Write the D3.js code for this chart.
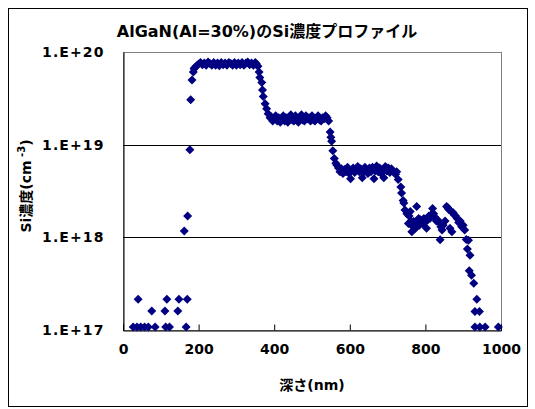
<!DOCTYPE html>
<html><head><meta charset="utf-8">
<script src="https://cdn.jsdelivr.net/npm/d3@7"></script>
<style>
html,body{margin:0;padding:0;background:#fff;}
svg{display:block;}
text{font-family:"DejaVu Sans","Noto Sans CJK JP",sans-serif;font-weight:bold;fill:#000;}
</style></head>
<body>
<script>
// ---- data ----
const titleText = "AlGaN(Al=30%)のSi濃度プロファイル";
const xTitle = "深さ(nm)";
const xTicks = [0, 200, 400, 600, 800, 1000];
const yTicks = [1e17, 1e18, 1e19, 1e20];
const yTickLabels = ["1.E+17", "1.E+18", "1.E+19", "1.E+20"];

const depth = [
  27, 37, 47, 57, 67, 85, 113, 123, 167,
  40, 116, 148, 170,
  76, 111, 145,
  162, 171, 177, 179, 182.5, 186, 188,
  190, 195, 200, 205, 210, 215, 220, 225, 230, 235, 240, 245, 250, 255, 260, 265, 270, 275, 280, 285, 290, 295, 300, 305, 310, 315, 320, 325, 330, 335, 340, 345, 350, 353,
  357, 360, 362, 367, 369, 371, 376, 380, 384, 389,
  392, 396, 400, 404, 408, 412, 416, 420, 424, 428, 432, 436, 440, 444, 448, 452, 456, 460, 464, 468, 472, 476, 480, 484, 488, 492, 496, 500, 504, 508, 512, 516, 520, 524, 528, 532, 536, 540, 544,
  548, 550, 552, 555, 559, 563,
  566, 570, 574, 578, 582, 586, 590, 594, 598, 602, 605, 609, 613, 617, 621, 625, 629, 633, 636, 640, 644, 648, 652, 656, 660, 664, 667, 671, 675, 679, 683, 687, 690, 694, 698, 702, 706, 710, 714, 718, 721,
  724, 728, 735, 737, 741, 743, 746, 751, 755, 757,
  760, 762, 764, 767, 769, 772, 774, 777, 779, 782, 784, 787, 790, 793, 796, 799, 803, 806, 809, 812, 815, 819, 822, 825, 829, 832, 836, 839, 841, 844, 847, 852, 856, 859, 862, 865, 868, 870, 873, 876, 880, 884, 888, 892, 896, 900, 904, 908, 911, 914,
  918, 916, 922, 928, 936, 931, 943,
  931, 944, 958, 993
];
const conc = [
  1.08e17, 1.08e17, 1.08e17, 1.08e17, 1.08e17, 1.08e17, 1.08e17, 1.08e17, 1.08e17,
  2.15e17, 2.15e17, 2.15e17, 2.15e17,
  1.6e17, 1.6e17, 1.6e17,
  1.17e18, 1.7e18, 8.8e18, 3.05e19, 5.0e19, 6.1e19, 6.6e19,
  6.8e19, 7.1e19, 7.4e19, 7.7e19, 7.3e19, 7.6e19, 7.2e19, 7.8e19, 7.5e19, 7.2e19, 7.7e19, 7.2e19, 7.6e19, 7.1e19, 7.7e19, 7.3e19, 7.6e19, 7.2e19, 7.7e19, 7.5e19, 7.2e19, 7.7e19, 7.2e19, 7.6e19, 7.3e19, 7.7e19, 7.2e19, 7.6e19, 7.8e19, 7.3e19, 7.6e19, 7.2e19, 7.7e19, 7.4e19,
  7.0e19, 6.1e19, 5.3e19, 4.7e19, 3.9e19, 3.3e19, 2.77e19, 2.44e19, 2.16e19, 1.95e19,
  2.0e19, 1.8e19, 1.9e19, 2.05e19, 1.8e19, 1.95e19, 1.75e19, 1.9e19, 2.05e19, 1.8e19, 1.95e19, 1.75e19, 1.9e19, 2.1e19, 1.85e19, 1.8e19, 2.05e19, 1.9e19, 1.75e19, 1.95e19, 2.1e19, 1.85e19, 1.8e19, 2.05e19, 1.9e19, 1.95e19, 1.8e19, 2.05e19, 1.85e19, 1.8e19, 1.95e19, 2.05e19, 1.85e19, 1.8e19, 1.95e19, 1.9e19, 2.05e19, 1.95e19, 1.8e19,
  1.37e19, 1.2e19, 1.09e19, 8.6e18, 7.1e18, 6.3e18,
  6.0e18, 5.6e18, 5.1e18, 5.5e18, 4.9e18, 5.4e18, 5.1e18, 5.7e18, 4.9e18, 4.3e18, 5.3e18, 5.6e18, 5.0e18, 5.4e18, 5.8e18, 5.1e18, 5.5e18, 4.4e18, 5.0e18, 5.7e18, 5.2e18, 4.9e18, 5.6e18, 5.1e18, 5.7e18, 4.3e18, 5.2e18, 5.9e18, 5.1e18, 5.6e18, 4.9e18, 5.4e18, 4.4e18, 5.8e18, 5.2e18, 5.6e18, 5.0e18, 5.5e18, 5.2e18, 5.0e18, 4.8e18,
  5.1e18, 4.2e18, 3.5e18, 3.0e18, 2.5e18, 2.35e18, 1.97e18, 1.8e18, 1.41e18, 1.7e18,
  1.9e18, 1.5e18, 1.15e18, 1.3e18, 1.48e18, 1.35e18, 1.25e18, 2.15e18, 1.45e18, 1.6e18, 1.35e18, 1.55e18, 1.5e18, 1.4e18, 1.6e18, 1.45e18, 1.25e18, 1.55e18, 1.7e18, 1.6e18, 1.75e18, 2.05e18, 1.8e18, 1.65e18, 1.5e18, 1.55e18, 1.45e18, 9.4e17, 1.3e18, 1.2e18, 1.35e18, 1.5e18, 2.15e18, 2.1e18, 2.0e18, 1.25e18, 1.9e18, 1.15e18, 1.85e18, 1.75e18, 1.7e18, 1.6e18, 1.45e18, 1.5e18, 1.3e18, 1.35e18, 1.2e18, 9.5e17, 7.5e17, 9.3e17,
  6.4e17, 4.35e17, 3.9e17, 3.2e17, 2.15e17, 1.58e17, 1.58e17,
  1.08e17, 1.08e17, 1.08e17, 1.08e17
];

// ---- layout ----
const W = 535, H = 409;
const plot = {left: 123, right: 501, top: 52, bottom: 330};

const svg = d3.select("body").append("svg").attr("width", W).attr("height", H);

// outer border
svg.append("rect").attr("x", 8.5).attr("y", 8.5).attr("width", 519).attr("height", 398)
  .attr("fill", "#fff").attr("stroke", "#000").attr("stroke-width", 1);

const x = d3.scaleLinear().domain([0, 1000]).range([plot.left, plot.right]);
const y = d3.scaleLog().domain([1e17, 1e20]).range([plot.bottom, plot.top]);

// plot area border (gray top/right)
svg.append("rect").attr("x", plot.left + 0.5).attr("y", plot.top + 0.5)
  .attr("width", plot.right - plot.left).attr("height", plot.bottom - plot.top)
  .attr("fill", "none").attr("stroke", "#808080").attr("stroke-width", 1);

// gridlines
svg.append("g").selectAll("line").data(yTicks.filter(v => v > 1e17 && v < 1e20)).join("line")
  .attr("x1", plot.left).attr("x2", plot.right)
  .attr("y1", d => Math.round(y(d)) + 0.5).attr("y2", d => Math.round(y(d)) + 0.5)
  .attr("stroke", "#000").attr("stroke-width", 1);

// x axis
const xAxis = d3.axisBottom(x).tickValues(xTicks).tickSize(-6).tickPadding(14).tickFormat(d3.format("d"));
const gx = svg.append("g").attr("transform", `translate(0,${plot.bottom + 0.5})`).call(xAxis);
gx.select(".domain").attr("stroke", "#000");
gx.selectAll(".tick line").attr("stroke", "#000");
gx.selectAll(".tick text").attr("font-size", 14).attr("font-family", null).attr("dy", "0.71em");

// y axis
const yAxis = d3.axisLeft(y).tickValues(yTicks).tickSize(0).tickPadding(19)
  .tickFormat((d, i) => yTickLabels[yTicks.indexOf(d)]);
const gy = svg.append("g").attr("transform", `translate(${plot.left + 0.5},0)`).call(yAxis);
gy.select(".domain").attr("stroke", "#000");
gy.selectAll(".tick text").attr("font-size", 14).attr("font-family", null)
  .style("letter-spacing", "1.1px");

// markers
const pts = depth.map((d, i) => ({d: d, c: conc[i]}));
svg.append("g").selectAll("path").data(pts).join("path")
  .attr("d", "M0,-4.5L4.5,0L0,4.5L-4.5,0Z")
  .attr("transform", p => `translate(${x(p.d)},${y(p.c)})`)
  .attr("fill", "#000080");

// title
svg.append("text").attr("x", 267).attr("y", 37).attr("text-anchor", "middle")
  .attr("font-size", 16).text(titleText);

// x title
svg.append("text").attr("x", (plot.left + plot.right) / 2).attr("y", 390).attr("text-anchor", "middle")
  .attr("font-size", 14).text(xTitle);

// y title
const yt = svg.append("text").attr("transform", `translate(31,186) rotate(-90)`)
  .attr("text-anchor", "middle").attr("font-size", 14);
yt.append("tspan").text("Si濃度(cm");
yt.append("tspan").attr("font-size", 10).attr("dy", -6).text(" -3");
yt.append("tspan").attr("dy", 6).text(")");
</script>
</body></html>
